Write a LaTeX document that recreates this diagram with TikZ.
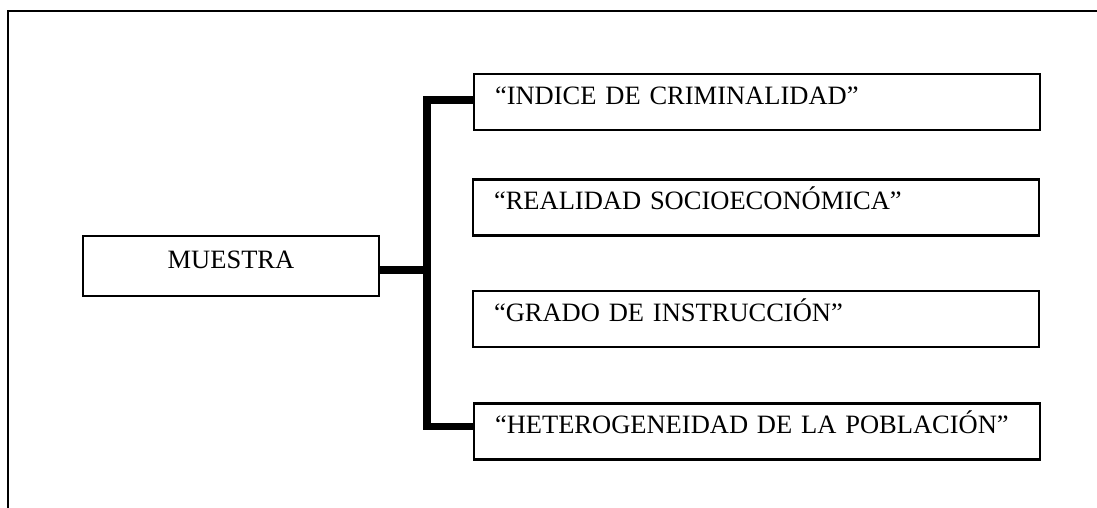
\documentclass[tikz,border=0pt]{standalone}
\usepackage{fontspec}
\setmainfont{Liberation Serif}
\begin{document}
\begin{tikzpicture}[x=1pt,y=-1pt,
  frameline/.style={line width=2.2pt},
  catbox/.style={draw, line width=2.5pt, minimum height=56pt, text width=524pt, inner xsep=21pt, inner ysep=0pt, align=left,
    font=\fontsize{26.5}{30}\selectfont, text height=0.8em, text depth=0.34em},
  mainbox/.style={draw, line width=2.5pt, minimum height=60pt, minimum width=296pt, inner sep=0pt,
    font=\fontsize{26.5}{30}\selectfont, text height=0.8em, text depth=0.34em},
  conn/.style={line width=7.5pt, line join=miter}]
\useasboundingbox (0,0) rectangle (1097,508);
\draw[frameline] (8,508) -- (8,11) -- (1097,11);
\node[mainbox] (mu) at (231,266) {MUESTRA};
\node[catbox] (b1) at (757,102) {“INDICE DE CRIMINALIDAD”};
\node[catbox] (b2) at (756,207.5) {“REALIDAD SOCIOECONÓMICA”};
\node[catbox] (b3) at (756,319) {“GRADO DE INSTRUCCIÓN”};
\node[catbox] (b4) at (757,431.5) {“HETEROGENEIDAD DE LA POBLACIÓN”};
\coordinate (bar) at (427,270);
\draw[conn] ([yshift=2pt]b1.west) -| (bar) |- ([yshift=5pt]b4.west);
\draw[conn] ([yshift=-4pt]mu.east) -- ([yshift=-4pt]mu.east -| bar);
\end{tikzpicture}
\end{document}
